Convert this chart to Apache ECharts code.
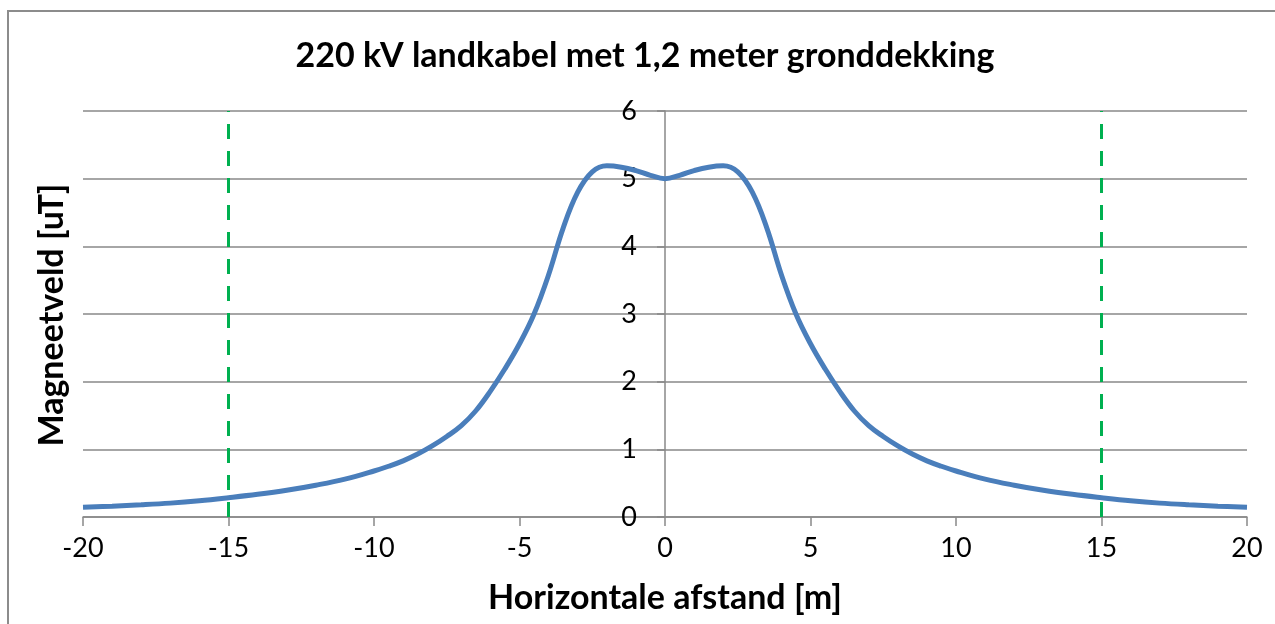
<!DOCTYPE html>
<html>
<head>
<meta charset="utf-8">
<script src="https://cdn.jsdelivr.net/npm/echarts@6/dist/echarts.min.js"></script>
<style>
  html, body { margin: 0; padding: 0; background: #fff; }
  #chart { width: 1275px; height: 624px; }
</style>
</head>
<body>
<div id="chart"></div>
<script>
// Magnetic field profile across a 220 kV underground cable route
const titleText = '220 kV landkabel met 1,2 meter gronddekking';
const xAxisName = 'Horizontale afstand [m]';
const yAxisName = 'Magneetveld [uT]';

// horizontal distance from the cable axis [m]
const distance = [
  -20, -19, -18, -17, -16, -15, -14, -13, -12, -11,
  -10, -9.5, -9, -8.5, -8, -7.5, -7, -6.5, -6, -5.5, -5, -4.5, -4, -3.5, -3, -2.5, -2, -1.5, -1, -0.5,
  0,
  0.5, 1, 1.5, 2, 2.5, 3, 3.5, 4, 4.5, 5, 5.5, 6, 6.5, 7, 7.5, 8, 8.5, 9, 9.5, 10,
  11, 12, 13, 14, 15, 16, 17, 18, 19, 20
];
// magnetic flux density [uT]
const field = [
  0.145, 0.16, 0.18, 0.205, 0.24, 0.285, 0.335, 0.395, 0.47, 0.56,
  0.68, 0.75, 0.83, 0.93, 1.05, 1.19, 1.35, 1.57, 1.86, 2.19, 2.56, 3.0, 3.58, 4.27, 4.8, 5.1, 5.19, 5.17, 5.12, 5.05,
  5.0,
  5.05, 5.12, 5.17, 5.19, 5.1, 4.8, 4.27, 3.58, 3.0, 2.56, 2.19, 1.86, 1.57, 1.35, 1.19, 1.05, 0.93, 0.83, 0.75, 0.68,
  0.56, 0.47, 0.395, 0.335, 0.285, 0.24, 0.205, 0.18, 0.16, 0.145
];

// boundaries of the zone at +/- 15 m
const zoneBounds = [-15, 15];
const zoneRange = [0, 6];

const fontFamily = 'Lato, "Open Sans", sans-serif';
const gray = '#898989';

// grid geometry; the value axis is shifted so it sits on x = 0
const gridLeft = 83;
const gridRight = 28;
const chartWidth = 1275;
const plotWidth = chartWidth - gridLeft - gridRight;
const xMin = -20, xMax = 20;
const yAxisShift = -plotWidth * (0 - xMin) / (xMax - xMin);

const chart = echarts.init(document.getElementById('chart'), null, { renderer: 'canvas' });

const zoneSeries = zoneBounds.map(function (x) {
  return {
    type: 'line',
    data: zoneRange.map(function (y) { return [x, y]; }),
    symbol: 'none',
    silent: true,
    z: 3,
    lineStyle: { color: '#00b050', width: 3, type: [15, 12] }
  };
});

chart.setOption({
  animation: false,
  backgroundColor: '#fff',
  grid: { left: gridLeft, right: gridRight, top: 111, bottom: 107, containLabel: false },
  xAxis: {
    type: 'value',
    min: xMin,
    max: xMax,
    interval: 5,
    name: xAxisName,
    nameLocation: 'middle',
    nameGap: 64,
    nameTextStyle: { fontFamily: fontFamily, fontSize: 34, fontWeight: 'bold', color: '#000' },
    axisLine: { show: true, onZero: false, lineStyle: { color: gray, width: 1.5 } },
    axisTick: { show: true, length: 9, lineStyle: { color: gray, width: 1.5 } },
    axisLabel: { fontFamily: fontFamily, fontSize: 27, color: '#000', margin: 18 },
    splitLine: { show: false }
  },
  yAxis: {
    type: 'value',
    min: 0,
    max: 6,
    interval: 1,
    offset: yAxisShift,
    axisLine: { show: true, onZero: false, lineStyle: { color: gray, width: 1.5 } },
    axisTick: { show: true, length: 8, lineStyle: { color: gray, width: 1.5 } },
    axisLabel: { fontFamily: fontFamily, fontSize: 27, color: '#000', margin: 28 },
    splitLine: { show: true, lineStyle: { color: gray, width: 1.5 } }
  },
  graphic: [
    {
      type: 'rect',
      shape: { x: 8, y: 11, width: 1400, height: 800 },
      style: { fill: 'none', stroke: '#8c8c8c', lineWidth: 2 },
      silent: true
    },
    {
      type: 'text',
      x: 645,
      y: 56,
      style: {
        text: titleText,
        fontFamily: fontFamily,
        fontSize: 34,
        fontWeight: 'bold',
        fill: '#000',
        textAlign: 'center',
        textVerticalAlign: 'middle'
      }
    },
    {
      type: 'text',
      x: 52,
      y: 315,
      rotation: Math.PI / 2,
      style: {
        text: yAxisName,
        fontFamily: fontFamily,
        fontSize: 34,
        fontWeight: 'bold',
        fill: '#000',
        textAlign: 'center',
        textVerticalAlign: 'middle'
      }
    }
  ],
  series: zoneSeries.concat([
    {
      type: 'line',
      data: distance.map(function (x, i) { return [x, field[i]]; }),
      symbol: 'none',
      smooth: 0.4,
      z: 4,
      lineStyle: { color: '#4a7ebb', width: 5 }
    }
  ])
});
</script>
</body>
</html>
